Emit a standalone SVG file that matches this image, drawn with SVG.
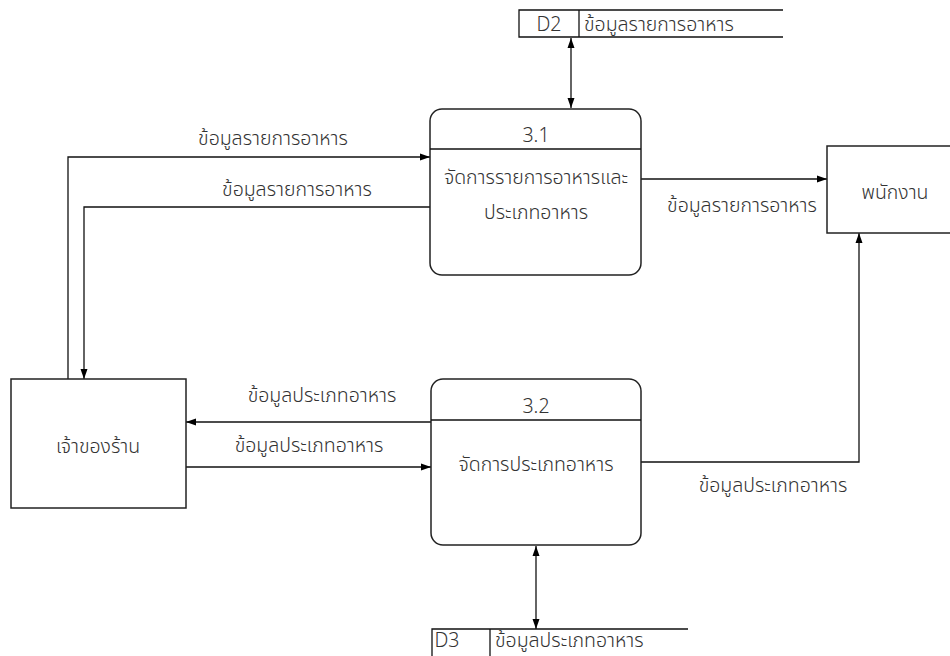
<svg xmlns="http://www.w3.org/2000/svg" width="950" height="656" viewBox="0 0 950 656">
<defs>
<marker id="arr" viewBox="0 0 10 10" refX="10" refY="5" markerWidth="10" markerHeight="10" markerUnits="userSpaceOnUse" orient="auto-start-reverse">
<path d="M0,1.5 L10,5 L0,8.5 Z" fill="#000"/>
</marker>
<style>
.t{font-family:"Noto Sans Thai","Noto Sans","DejaVu Sans",sans-serif;font-size:19.5px;font-weight:300;fill:#333;text-anchor:middle}
.ts{text-anchor:start}
.box{fill:#fff;stroke:#222;stroke-width:1.5}
.ln{fill:none;stroke:#111;stroke-width:1.3}
</style>
</defs>
<rect width="950" height="656" fill="#fff"/>
<g id="connectors">
<line class="ln" x1="571" y1="38" x2="571" y2="108" marker-start="url(#arr)" marker-end="url(#arr)"/>
<polyline class="ln" points="68,379 68,157 430,157" marker-end="url(#arr)"/>
<polyline class="ln" points="430,207 84,207 84,379" marker-end="url(#arr)"/>
<line class="ln" x1="641" y1="179" x2="827" y2="179" marker-end="url(#arr)"/>
<line class="ln" x1="431" y1="422" x2="186" y2="422" marker-end="url(#arr)"/>
<line class="ln" x1="186" y1="467" x2="431" y2="467" marker-end="url(#arr)"/>
<polyline class="ln" points="641,462 859,462 859,233" marker-end="url(#arr)"/>
<line class="ln" x1="536" y1="546" x2="536" y2="629" marker-start="url(#arr)" marker-end="url(#arr)"/>
<text class="t" x="273" y="145">ข้อมูลรายการอาหาร</text>
<text class="t" x="297" y="196">ข้อมูลรายการอาหาร</text>
<text class="t" x="742" y="212">ข้อมูลรายการอาหาร</text>
<text class="t" x="322" y="402">ข้อมูลประเภทอาหาร</text>
<text class="t" x="309" y="452">ข้อมูลประเภทอาหาร</text>
<text class="t" x="773" y="492">ข้อมูลประเภทอาหาร</text>
</g>
<g id="d2">
<polyline class="ln" points="783,10 519,10 519,37 783,37"/>
<line class="ln" x1="579" y1="10" x2="579" y2="37"/>
<text class="t" x="549" y="31">D2</text>
<text class="t ts" x="584" y="31">ข้อมูลรายการอาหาร</text>
</g>
<g id="p31">
<rect class="box" x="430" y="109" width="211" height="166" rx="12"/>
<line class="ln" x1="430" y1="149" x2="641" y2="149"/>
<text class="t" x="536" y="142">3.1</text>
<text class="t" x="536" y="184">จัดการรายการอาหารและ</text>
<text class="t" x="536" y="219">ประเภทอาหาร</text>
</g>
<g id="p32">
<rect class="box" x="431" y="379" width="210" height="166" rx="12"/>
<line class="ln" x1="431" y1="420" x2="641" y2="420"/>
<text class="t" x="536" y="413">3.2</text>
<text class="t" x="536" y="471">จัดการประเภทอาหาร</text>
</g>
<g id="owner">
<rect class="box" x="11" y="379" width="175" height="129"/>
<text class="t" x="98" y="453">เจ้าของร้าน</text>
</g>
<g id="staff">
<rect class="box" x="827" y="146" width="140" height="87"/>
<text class="t" x="895" y="199">พนักงาน</text>
</g>
<g id="d3">
<polyline class="ln" points="688,629 432,629 432,660"/>
<line class="ln" x1="490" y1="629" x2="490" y2="660"/>
<text class="t" x="447" y="647" font-size="18">D3</text>
<text class="t ts" x="495" y="647" font-size="18">ข้อมูลประเภทอาหาร</text>
</g>
</svg>
